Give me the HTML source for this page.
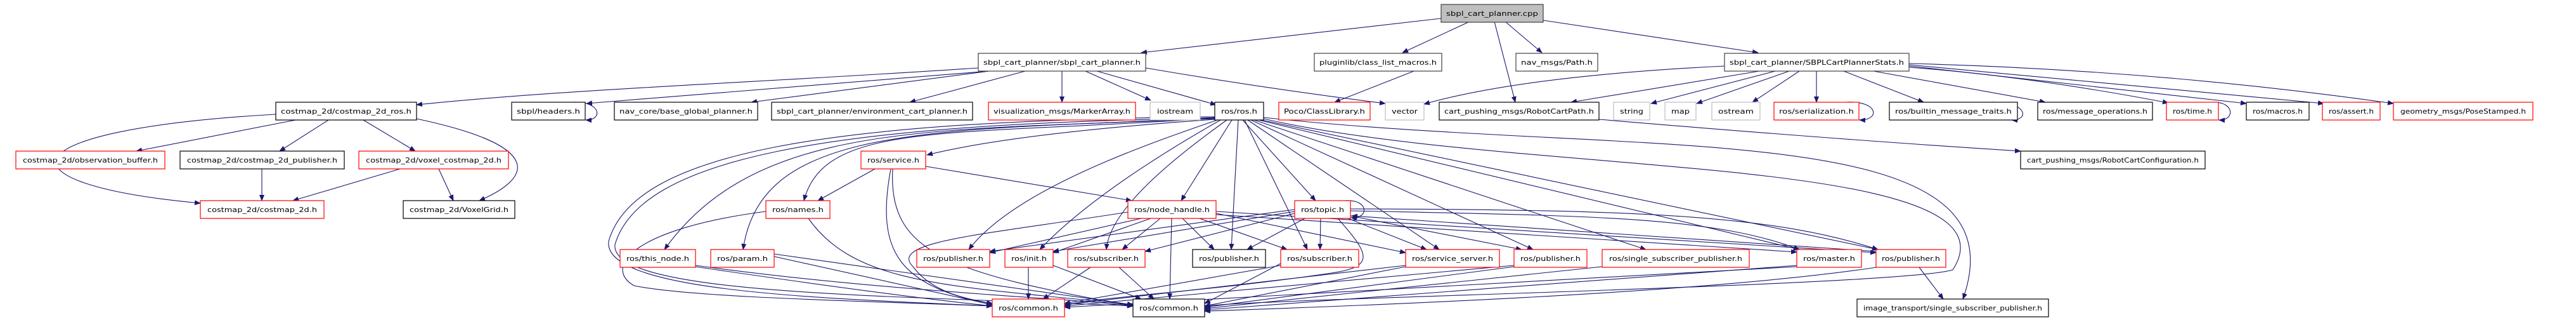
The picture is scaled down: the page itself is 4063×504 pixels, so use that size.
<!DOCTYPE html>
<html><head><meta charset="utf-8"><style>
html,body{margin:0;padding:0;background:#fff;}
svg{display:block;}
text{font-family:"DejaVu Sans","Liberation Sans",sans-serif;font-size:10.5px;fill:#000;}
.e{fill:none;stroke:#191970;stroke-width:1.1;marker-end:url(#a);}
</style></head><body>
<svg width="4063" height="504" viewBox="0 0 4063 504" xmlns="http://www.w3.org/2000/svg">
<defs><marker id="a" markerWidth="10" markerHeight="8" refX="9" refY="4" orient="auto" markerUnits="userSpaceOnUse"><path d="M0,0 L10,4 L0,8 z" fill="#191970"/></marker></defs>
<g>
<!-- cpp edges -->
<path class="e" d="M2273,29 L1800,83"/>
<path class="e" d="M2318,34 L2212,83"/>
<path class="e" d="M2357,34 L2390,161"/>
<path class="e" d="M2374,34 L2432,83"/>
<path class="e" d="M2434,32 L2773,83"/>
<!-- sbpl_cart_planner.h -->
<path class="e" d="M1543,107 C1200,130 900,140 657,165"/>
<path class="e" d="M1560,112 L925,163"/>
<path class="e" d="M1560,112 L1185,161"/>
<path class="e" d="M1617,112 L1435,161"/>
<path class="e" d="M1675,112 L1675,161"/>
<path class="e" d="M1712,112 L1815,158"/>
<path class="e" d="M1730,112 L1918,165"/>
<path class="e" d="M1807,107 Q2000,140 2185,163"/>
<path class="e" d="M2230,112 L2105,161"/>
<!-- SBPLStats -->
<path class="e" d="M2720,104 Q2400,120 2246,164"/>
<path class="e" d="M2775,112 L2478,161"/>
<path class="e" d="M2800,112 L2604,163"/>
<path class="e" d="M2822,112 L2676,163"/>
<path class="e" d="M2838,112 L2764,161"/>
<path class="e" d="M2865,112 L2865,161"/>
<path class="e" d="M2908,112 L3034,161"/>
<path class="e" d="M2955,112 L3226,161"/>
<path class="e" d="M3011,106 Q3200,120 3420,162"/>
<path class="e" d="M3011,104 L3543,163"/>
<path class="e" d="M3011,102 L3665,163"/>
<path class="e" d="M3011,100 Q3400,110 3775,163"/>
<!-- self loops -->
<path class="e" d="M2910,161 C2965,158 2965,190 2933,189"/>
<path class="e" d="M3140,161 C3200,160 3200,190 3173,189"/>
<path class="e" d="M3490,161 C3525,160 3525,190 3500,189"/>
<path class="e" d="M905,161 C950,160 950,190 924,189"/>
<path class="e" d="M2120,316 C2160,313 2160,345 2131,343"/>
<path class="e" d="M2522,188 Q2900,220 3187,238"/>
<!-- costmap -->
<path class="e" d="M466,189 L215,238"/>
<path class="e" d="M518,189 L441,238"/>
<path class="e" d="M573,189 L655,238"/>
<path class="e" d="M435,180 C0,205 -10,290 316,320"/>
<path class="e" d="M657,187 C860,230 840,280 756,316"/>
<path class="e" d="M413,266 L413,316"/>
<path class="e" d="M631,266 L462,316"/>
<path class="e" d="M692,266 L715,316"/>
<!-- ros.h -->
<path class="e" d="M1916,188 Q1600,210 1462,244"/>
<path class="e" d="M1916,186 C1500,215 1300,190 1268,316"/>
<path class="e" d="M1916,185 C1500,210 1200,180 1048,393"/>
<path class="e" d="M1916,187 C1450,205 1200,200 1172,393"/>
<path class="e" d="M1916,184 C1300,190 1000,240 960,380 C950,460 1300,470 1565,482"/>
<path class="e" d="M1916,186 C1300,195 1010,250 970,385 C960,465 1400,465 1787,482"/>
<path class="e" d="M1920,189 C1800,230 1600,300 1528,393"/>
<path class="e" d="M1925,189 C1800,260 1700,330 1640,393"/>
<path class="e" d="M1935,189 C1850,250 1750,330 1745,393"/>
<path class="e" d="M1943,189 L1863,316"/>
<path class="e" d="M1953,189 L1942,393"/>
<path class="e" d="M1960,189 L2075,316"/>
<path class="e" d="M1963,189 L2062,393"/>
<path class="e" d="M1968,189 L2270,393"/>
<path class="e" d="M1973,189 L2418,393"/>
<path class="e" d="M1978,189 L2596,393"/>
<path class="e" d="M1985,189 L2838,393"/>
<path class="e" d="M1990,189 L2962,393"/>
<path class="e" d="M1993,185 C2600,250 3200,180 3096,471"/>
<path class="e" d="M1993,187 C2400,280 3200,240 3080,425 C3000,450 2000,470 1900,482"/>
<!-- service -->
<path class="e" d="M1380,266 L1290,316"/>
<path class="e" d="M1460,262 L1785,316"/>
<path class="e" d="M1405,266 C1380,400 1420,450 1565,480"/>
<path class="e" d="M1408,266 C1400,400 1500,430 1787,482"/>
<!-- names -->
<path class="e" d="M1275,344 C1350,450 1500,450 1787,480"/>
<path class="e" d="M1208,333 C1000,360 950,420 1000,450 C1100,470 1400,475 1565,482"/>
<!-- node_handle -->
<path class="e" d="M1800,344 L1561,398"/>
<path class="e" d="M1815,344 L1661,398"/>
<path class="e" d="M1830,344 L1770,393"/>
<path class="e" d="M1865,344 L1915,393"/>
<path class="e" d="M1892,344 L2030,393"/>
<path class="e" d="M1918,336 L2217,398"/>
<path class="e" d="M1918,333 L2959,398"/>
<path class="e" d="M1848,344 L1845,471"/>
<path class="e" d="M1779,334 C1550,370 1400,380 1440,420 C1470,460 1520,470 1565,478"/>
<path class="e" d="M1918,338 L2834,397"/>
<!-- topic -->
<path class="e" d="M2042,330 L1561,396"/>
<path class="e" d="M2042,333 L1661,396"/>
<path class="e" d="M2042,336 L1806,396"/>
<path class="e" d="M2058,344 L1967,393"/>
<path class="e" d="M2083,344 L2082,393"/>
<path class="e" d="M2126,344 L2250,393"/>
<path class="e" d="M2130,340 L2400,393"/>
<path class="e" d="M2130,332 C2500,340 2700,340 2838,393"/>
<path class="e" d="M2130,329 C2600,330 2800,340 2962,393"/>
<path class="e" d="M2110,344 C2160,400 2170,420 2100,430 C1900,460 1700,470 1679,482"/>
<path class="e" d="M2959,396 L2132,340"/>
<!-- lower to commons -->
<path class="e" d="M1097,420 C1300,450 1450,470 1565,482"/>
<path class="e" d="M1097,418 C1400,460 1700,470 1787,482"/>
<path class="e" d="M1221,404 L1565,480"/>
<path class="e" d="M1221,400 L1787,480"/>
<path class="e" d="M1622,421 L1622,471"/>
<path class="e" d="M1661,418 L1800,471"/>
<path class="e" d="M1720,421 L1645,471"/>
<path class="e" d="M1765,421 L1820,471"/>
<path class="e" d="M2020,415 L1900,478"/>
<path class="e" d="M2020,418 L1679,478"/>
<path class="e" d="M2217,420 L1900,482"/>
<path class="e" d="M2217,418 L1679,480"/>
<path class="e" d="M2388,420 L1900,484"/>
<path class="e" d="M2388,418 L1679,482"/>
<path class="e" d="M2527,420 L1900,486"/>
<path class="e" d="M2834,418 L1900,488"/>
<path class="e" d="M2834,420 L1679,484"/>
<path class="e" d="M3027,421 L3065,471"/>
<path class="e" d="M2960,421 C2700,460 2200,480 1900,490"/>
</g>
<g stroke-width="1.2">
<!-- nodes -->
<rect x="2273" y="7" width="161" height="28" fill="#bfbfbf" stroke="#404040"/><text x="2353.5" y="25" text-anchor="middle" textLength="145" lengthAdjust="spacingAndGlyphs">sbpl_cart_planner.cpp</text>
<rect x="1543" y="84" width="264" height="28" fill="#fff" stroke="#404040"/><text x="1675" y="102" text-anchor="middle" textLength="248" lengthAdjust="spacingAndGlyphs">sbpl_cart_planner/sbpl_cart_planner.h</text>
<rect x="2073" y="84" width="201" height="28" fill="#fff" stroke="#404040"/><text x="2173.5" y="102" text-anchor="middle" textLength="185" lengthAdjust="spacingAndGlyphs">pluginlib/class_list_macros.h</text>
<rect x="2391" y="84" width="129" height="28" fill="#fff" stroke="#404040"/><text x="2455.5" y="102" text-anchor="middle" textLength="113" lengthAdjust="spacingAndGlyphs">nav_msgs/Path.h</text>
<rect x="2720" y="84" width="291" height="28" fill="#fff" stroke="#404040"/><text x="2865.5" y="102" text-anchor="middle" textLength="275" lengthAdjust="spacingAndGlyphs">sbpl_cart_planner/SBPLCartPlannerStats.h</text>

<rect x="435" y="161" width="222" height="28" fill="#fff" stroke="#000"/><text x="546" y="179" text-anchor="middle" textLength="206" lengthAdjust="spacingAndGlyphs">costmap_2d/costmap_2d_ros.h</text>
<rect x="807" y="161" width="116" height="28" fill="#fff" stroke="#000"/><text x="865" y="179" text-anchor="middle" textLength="100" lengthAdjust="spacingAndGlyphs">sbpl/headers.h</text>
<rect x="969" y="161" width="226" height="28" fill="#fff" stroke="#000"/><text x="1082" y="179" text-anchor="middle" textLength="210" lengthAdjust="spacingAndGlyphs">nav_core/base_global_planner.h</text>
<rect x="1217" y="161" width="317" height="28" fill="#fff" stroke="#000"/><text x="1375.5" y="179" text-anchor="middle" textLength="301" lengthAdjust="spacingAndGlyphs">sbpl_cart_planner/environment_cart_planner.h</text>
<rect x="1559" y="161" width="232" height="28" fill="#fff" stroke="#f00"/><text x="1675" y="179" text-anchor="middle" textLength="216" lengthAdjust="spacingAndGlyphs">visualization_msgs/MarkerArray.h</text>
<rect x="1814" y="161" width="79" height="28" fill="#fff" stroke="#bfbfbf"/><text x="1853.5" y="179" text-anchor="middle" textLength="57" lengthAdjust="spacingAndGlyphs">iostream</text>
<rect x="1916" y="161" width="77" height="28" fill="#fff" stroke="#000"/><text x="1954.5" y="179" text-anchor="middle" textLength="57" lengthAdjust="spacingAndGlyphs">ros/ros.h</text>
<rect x="2017" y="161" width="144" height="28" fill="#fff" stroke="#f00"/><text x="2089" y="179" text-anchor="middle" textLength="128" lengthAdjust="spacingAndGlyphs">Poco/ClassLibrary.h</text>
<rect x="2185" y="161" width="61" height="28" fill="#fff" stroke="#bfbfbf"/><text x="2215.5" y="179" text-anchor="middle" textLength="41" lengthAdjust="spacingAndGlyphs">vector</text>
<rect x="2270" y="161" width="252" height="28" fill="#fff" stroke="#000"/><text x="2396" y="179" text-anchor="middle" textLength="236" lengthAdjust="spacingAndGlyphs">cart_pushing_msgs/RobotCartPath.h</text>
<rect x="2545" y="161" width="57" height="28" fill="#fff" stroke="#bfbfbf"/><text x="2573.5" y="179" text-anchor="middle" textLength="37" lengthAdjust="spacingAndGlyphs">string</text>
<rect x="2626" y="161" width="49" height="28" fill="#fff" stroke="#bfbfbf"/><text x="2650.5" y="179" text-anchor="middle" textLength="29" lengthAdjust="spacingAndGlyphs">map</text>
<rect x="2700" y="161" width="76" height="28" fill="#fff" stroke="#bfbfbf"/><text x="2738" y="179" text-anchor="middle" textLength="56" lengthAdjust="spacingAndGlyphs">ostream</text>
<rect x="2798" y="161" width="134" height="28" fill="#fff" stroke="#f00"/><text x="2865" y="179" text-anchor="middle" textLength="118" lengthAdjust="spacingAndGlyphs">ros/serialization.h</text>
<rect x="2980" y="161" width="202" height="28" fill="#fff" stroke="#000"/><text x="3081" y="179" text-anchor="middle" textLength="184" lengthAdjust="spacingAndGlyphs">ros/builtin_message_traits.h</text>
<rect x="3214" y="161" width="181" height="28" fill="#fff" stroke="#000"/><text x="3304.5" y="179" text-anchor="middle" textLength="165" lengthAdjust="spacingAndGlyphs">ros/message_operations.h</text>
<rect x="3417" y="161" width="82" height="28" fill="#fff" stroke="#f00"/><text x="3458" y="179" text-anchor="middle" textLength="62" lengthAdjust="spacingAndGlyphs">ros/time.h</text>
<rect x="3543" y="161" width="99" height="28" fill="#fff" stroke="#000"/><text x="3592.5" y="179" text-anchor="middle" textLength="79" lengthAdjust="spacingAndGlyphs">ros/macros.h</text>
<rect x="3663" y="161" width="91" height="28" fill="#fff" stroke="#f00"/><text x="3708.5" y="179" text-anchor="middle" textLength="71" lengthAdjust="spacingAndGlyphs">ros/assert.h</text>
<rect x="3775" y="161" width="220" height="28" fill="#fff" stroke="#f00"/><text x="3885" y="179" text-anchor="middle" textLength="198" lengthAdjust="spacingAndGlyphs">geometry_msgs/PoseStamped.h</text>

<rect x="25" y="238" width="235" height="28" fill="#fff" stroke="#f00"/><text x="142.5" y="256" text-anchor="middle" textLength="213" lengthAdjust="spacingAndGlyphs">costmap_2d/observation_buffer.h</text>
<rect x="284" y="238" width="259" height="28" fill="#fff" stroke="#000"/><text x="413.5" y="256" text-anchor="middle" textLength="237" lengthAdjust="spacingAndGlyphs">costmap_2d/costmap_2d_publisher.h</text>
<rect x="566" y="238" width="236" height="28" fill="#fff" stroke="#f00"/><text x="684" y="256" text-anchor="middle" textLength="214" lengthAdjust="spacingAndGlyphs">costmap_2d/voxel_costmap_2d.h</text>
<rect x="1358" y="238" width="102" height="28" fill="#fff" stroke="#f00"/><text x="1409" y="256" text-anchor="middle" textLength="82" lengthAdjust="spacingAndGlyphs">ros/service.h</text>
<rect x="3187" y="238" width="291" height="28" fill="#fff" stroke="#000"/><text x="3332.5" y="256" text-anchor="middle" textLength="271" lengthAdjust="spacingAndGlyphs">cart_pushing_msgs/RobotCartConfiguration.h</text>

<rect x="316" y="316" width="195" height="28" fill="#fff" stroke="#f00"/><text x="413.5" y="334" text-anchor="middle" textLength="173" lengthAdjust="spacingAndGlyphs">costmap_2d/costmap_2d.h</text>
<rect x="636" y="316" width="176" height="28" fill="#fff" stroke="#000"/><text x="724" y="334" text-anchor="middle" textLength="156" lengthAdjust="spacingAndGlyphs">costmap_2d/VoxelGrid.h</text>
<rect x="1208" y="316" width="101" height="28" fill="#fff" stroke="#f00"/><text x="1258.5" y="334" text-anchor="middle" textLength="81" lengthAdjust="spacingAndGlyphs">ros/names.h</text>
<rect x="1779" y="316" width="139" height="28" fill="#fff" stroke="#f00"/><text x="1848.5" y="334" text-anchor="middle" textLength="119" lengthAdjust="spacingAndGlyphs">ros/node_handle.h</text>
<rect x="2042" y="316" width="88" height="28" fill="#fff" stroke="#f00"/><text x="2086" y="334" text-anchor="middle" textLength="68" lengthAdjust="spacingAndGlyphs">ros/topic.h</text>

<rect x="978" y="393" width="119" height="28" fill="#fff" stroke="#f00"/><text x="1037.5" y="411" text-anchor="middle" textLength="99" lengthAdjust="spacingAndGlyphs">ros/this_node.h</text>
<rect x="1121" y="393" width="100" height="28" fill="#fff" stroke="#f00"/><text x="1171" y="411" text-anchor="middle" textLength="80" lengthAdjust="spacingAndGlyphs">ros/param.h</text>
<rect x="1446" y="393" width="115" height="28" fill="#fff" stroke="#f00"/><text x="1503.5" y="411" text-anchor="middle" textLength="95" lengthAdjust="spacingAndGlyphs">ros/publisher.h</text>
<rect x="1585" y="393" width="76" height="28" fill="#fff" stroke="#f00"/><text x="1623" y="411" text-anchor="middle" textLength="56" lengthAdjust="spacingAndGlyphs">ros/init.h</text>
<rect x="1684" y="393" width="122" height="28" fill="#fff" stroke="#f00"/><text x="1745" y="411" text-anchor="middle" textLength="102" lengthAdjust="spacingAndGlyphs">ros/subscriber.h</text>
<rect x="1881" y="393" width="115" height="28" fill="#fff" stroke="#000"/><text x="1938.5" y="411" text-anchor="middle" textLength="95" lengthAdjust="spacingAndGlyphs">ros/publisher.h</text>
<rect x="2020" y="393" width="123" height="28" fill="#fff" stroke="#f00"/><text x="2081.5" y="411" text-anchor="middle" textLength="103" lengthAdjust="spacingAndGlyphs">ros/subscriber.h</text>
<rect x="2217" y="393" width="148" height="28" fill="#fff" stroke="#f00"/><text x="2291" y="411" text-anchor="middle" textLength="128" lengthAdjust="spacingAndGlyphs">ros/service_server.h</text>
<rect x="2388" y="393" width="115" height="28" fill="#fff" stroke="#f00"/><text x="2445.5" y="411" text-anchor="middle" textLength="95" lengthAdjust="spacingAndGlyphs">ros/publisher.h</text>
<rect x="2527" y="393" width="232" height="28" fill="#fff" stroke="#f00"/><text x="2643" y="411" text-anchor="middle" textLength="210" lengthAdjust="spacingAndGlyphs">ros/single_subscriber_publisher.h</text>
<rect x="2834" y="393" width="102" height="28" fill="#fff" stroke="#f00"/><text x="2885" y="411" text-anchor="middle" textLength="82" lengthAdjust="spacingAndGlyphs">ros/master.h</text>
<rect x="2959" y="393" width="110" height="28" fill="#fff" stroke="#f00"/><text x="3014" y="411" text-anchor="middle" textLength="92" lengthAdjust="spacingAndGlyphs">ros/publisher.h</text>

<rect x="1565" y="471" width="114" height="28" fill="#fff" stroke="#f00"/><text x="1622" y="489" text-anchor="middle" textLength="94" lengthAdjust="spacingAndGlyphs">ros/common.h</text>
<rect x="1787" y="471" width="113" height="28" fill="#fff" stroke="#000"/><text x="1843.5" y="489" text-anchor="middle" textLength="93" lengthAdjust="spacingAndGlyphs">ros/common.h</text>
<rect x="2929" y="471" width="302" height="28" fill="#fff" stroke="#000"/><text x="3080" y="489" text-anchor="middle" textLength="282" lengthAdjust="spacingAndGlyphs">image_transport/single_subscriber_publisher.h</text>
</g>
</svg>
</body></html>
